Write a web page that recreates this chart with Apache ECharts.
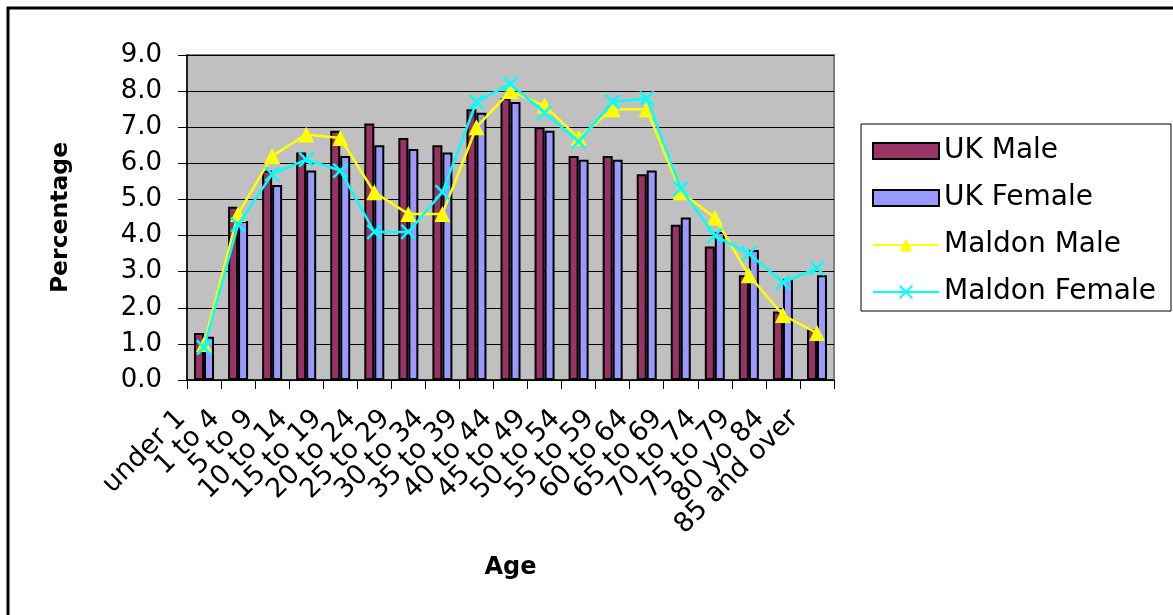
<!DOCTYPE html>
<html>
<head>
<meta charset="utf-8">
<script src="https://cdn.jsdelivr.net/npm/echarts@6/dist/echarts.min.js"></script>
<style>
  html, body { margin: 0; padding: 0; background: #ffffff; }
  #chart { width: 1173px; height: 615px; }
</style>
</head>
<body>
<div id="chart"></div>
<script>
const categories = ["under 1", "1 to 4", "5 to 9", "10 to 14", "15 to 19", "20 to 24", "25 to 29", "30 to 34", "35 to 39", "40 to 44", "45 to 49", "50 to 54", "55 to 59", "60 to 64", "65 to 69", "70 to 74", "75 to 79", "80 yo 84", "85 and over"];
const ukMale = [1.3, 4.8, 5.8, 6.3, 6.9, 7.1, 6.7, 6.5, 7.5, 7.8, 7.0, 6.2, 6.2, 5.7, 4.3, 3.7, 2.9, 1.9, 1.4];
const ukFemale = [1.2, 4.4, 5.4, 5.8, 6.2, 6.5, 6.4, 6.3, 7.4, 7.7, 6.9, 6.1, 6.1, 5.8, 4.5, 4.1, 3.6, 2.8, 2.9];
const maldonMale = [1.0, 4.6, 6.2, 6.8, 6.7, 5.2, 4.6, 4.6, 7.0, 8.0, 7.6, 6.7, 7.5, 7.5, 5.2, 4.5, 2.9, 1.8, 1.3];
const maldonFemale = [0.9, 4.3, 5.7, 6.1, 5.8, 4.1, 4.1, 5.2, 7.7, 8.2, 7.4, 6.6, 7.7, 7.8, 5.3, 4.0, 3.5, 2.7, 3.1];
const yTicks = { min: 0, max: 9, interval: 1 };

const FONT = 'DejaVu Sans';
const crossPath = 'path://M0,0L10,10M10,0L0,10';

const chart = echarts.init(document.getElementById('chart'), null, { renderer: 'canvas' });
chart.setOption({
  animation: false,
  backgroundColor: '#ffffff',
  textStyle: { fontFamily: FONT },
  graphic: [
    { type: 'rect', z: 0, shape: { x: 8, y: 8, width: 1200, height: 700 },
      style: { fill: null, stroke: '#000000', lineWidth: 3 } },
    { type: 'rect', z: 0, shape: { x: 861, y: 124, width: 310, height: 187 },
      style: { fill: '#ffffff', stroke: '#000000', lineWidth: 1 } }
  ],
  grid: {
    left: 187, top: 55, right: 339, bottom: 235,
    show: true, backgroundColor: '#c0c0c0', borderColor: '#808080', borderWidth: 2,
    containLabel: false
  },
  legend: {
    z: 10,
    orient: 'vertical',
    left: 862, top: 127,
    padding: [9, 6, 6, 10],
    itemWidth: 66, itemHeight: 16, itemGap: 17,
    textStyle: { fontFamily: FONT, fontSize: 28, color: '#000000', lineHeight: 30 },
    data: [
      { name: 'UK Male', icon: 'rect' },
      { name: 'UK Female', icon: 'rect' },
      { name: 'Maldon Male' },
      { name: 'Maldon Female' }
    ]
  },
  xAxis: {
    type: 'category',
    data: categories,
    name: 'Age',
    nameLocation: 'middle',
    nameGap: 176,
    nameTextStyle: { fontFamily: FONT, fontSize: 24, fontWeight: 'bold', color: '#000000' },
    axisLine: { lineStyle: { color: '#000000', width: 1.5 } },
    axisTick: { show: true, inside: false, length: 9, lineStyle: { color: '#000000' } },
    axisLabel: {
      interval: 0, rotate: 45, margin: 12,
      padding: [0, 32, 0, 0],
      fontFamily: FONT, fontSize: 27, color: '#000000'
    },
    splitLine: { show: false }
  },
  yAxis: {
    type: 'value',
    min: yTicks.min, max: yTicks.max, interval: yTicks.interval,
    name: 'Percentage',
    nameLocation: 'middle',
    nameRotate: 90,
    nameGap: 114,
    nameTextStyle: { fontFamily: FONT, fontSize: 23.5, fontWeight: 'bold', color: '#000000' },
    axisLine: { show: true, lineStyle: { color: '#000000', width: 1.5 } },
    axisTick: { show: true, inside: false, length: 9, lineStyle: { color: '#000000' } },
    axisLabel: {
      margin: 25, fontFamily: FONT, fontSize: 26, color: '#000000',
      formatter: v => v.toFixed(1)
    },
    splitLine: { show: true, lineStyle: { color: '#000000', width: 1.2 } }
  },
  series: [
    {
      name: 'UK Male', type: 'bar', data: ukMale,
      barWidth: 10, barGap: '0%',
      itemStyle: { color: '#993366', borderColor: '#000000', borderWidth: 2 }
    },
    {
      name: 'UK Female', type: 'bar', data: ukFemale,
      barWidth: 10, barGap: '0%',
      itemStyle: { color: '#9999ff', borderColor: '#000000', borderWidth: 2 }
    },
    {
      name: 'Maldon Male', type: 'line', data: maldonMale,
      symbol: 'triangle', symbolSize: 16,
      lineStyle: { color: '#ffff00', width: 2.5 },
      itemStyle: { color: '#ffff00', borderColor: '#ffff00', borderWidth: 0 },
      z: 5
    },
    {
      name: 'Maldon Female', type: 'line', data: maldonFemale,
      symbol: crossPath, symbolSize: 14, symbolKeepAspect: true,
      lineStyle: { color: '#00ffff', width: 2.5 },
      itemStyle: { color: 'rgba(0,0,0,0)', borderColor: '#00ffff', borderWidth: 2.5 },
      z: 6
    }
  ]
});
</script>
</body>
</html>
